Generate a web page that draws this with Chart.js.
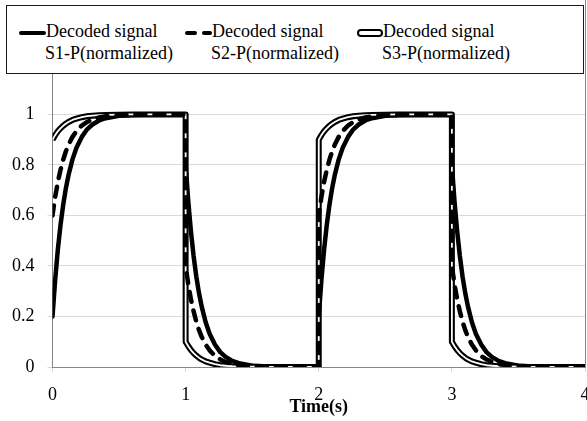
<!DOCTYPE html>
<html>
<head>
<meta charset="utf-8">
<script src="https://cdn.jsdelivr.net/npm/chart.js@4.4.1/dist/chart.umd.min.js"></script>
<style>
  html, body { margin: 0; padding: 0; background: #fff; }
  #wrap { position: relative; width: 587px; height: 421px; }
  canvas { position: absolute; left: 0; top: 0; }
  #legend {
    position: absolute; left: 6px; top: 5px; width: 578px; height: 69px;
    box-sizing: border-box; border: 1px solid #1a1a1a; background: #fff;
    font-family: "Liberation Serif", "Times New Roman", serif; font-size: 18px; color: #000;
  }
  .item { position: absolute; top: 14px; }
  .item .txt { position: absolute; top: 0; white-space: nowrap; line-height: 22px; }
  .icon { position: absolute; top: 12px; height: 0; }
  .ic-solid { width: 27px; height: 4px; background: #000; border-radius: 2px; top: 11px; }
  .ic-dash { width: 27px; height: 4px; top: 11px; }
  .ic-dash span { position: absolute; top: 0; height: 4px; background: #000; border-radius: 2px; }
  .ic-double { width: 26px; height: 8px; top: 9px; box-sizing: border-box; border: 2.5px solid #000; border-radius: 4px; background: #fff; }
</style>
</head>
<body>
<div id="wrap">
  <canvas id="c" width="587" height="421"></canvas>
  <div id="legend"></div>
</div>
<script>
// ---- data ----
const seriesLine1 = ["Decoded signal", "Decoded signal", "Decoded signal"];
const seriesLine2 = ["S1-P(normalized)", "S2-P(normalized)", "S3-P(normalized)"];

const times = [
  0, 0.02, 0.04, 0.06, 0.08, 0.1, 0.12, 0.15, 0.18, 0.22, 0.26, 0.3, 0.35, 0.4, 0.5, 0.6, 0.7, 1,
  1, 1.02, 1.04, 1.06, 1.08, 1.1, 1.12, 1.15, 1.18, 1.22, 1.26, 1.3, 1.35, 1.4, 1.5, 1.6, 1.7, 2,
  2, 2.02, 2.04, 2.06, 2.08, 2.1, 2.12, 2.15, 2.18, 2.22, 2.26, 2.3, 2.35, 2.4, 2.5, 2.6, 2.7, 3,
  3, 3.02, 3.04, 3.06, 3.08, 3.1, 3.12, 3.15, 3.18, 3.22, 3.26, 3.3, 3.35, 3.4, 3.5, 3.6, 3.7, 4
];

const s1 = [
  0.2, 0.345, 0.464, 0.561, 0.641, 0.706, 0.759, 0.822, 0.868, 0.911, 0.941, 0.960, 0.976, 0.985, 0.995, 0.998, 0.999, 1,
  0.8, 0.655, 0.536, 0.439, 0.359, 0.294, 0.241, 0.178, 0.132, 0.089, 0.059, 0.040, 0.024, 0.015, 0.005, 0.002, 0.001, 0,
  0.2, 0.345, 0.464, 0.561, 0.641, 0.706, 0.759, 0.822, 0.868, 0.911, 0.941, 0.960, 0.976, 0.985, 0.995, 0.998, 0.999, 1,
  0.8, 0.655, 0.536, 0.439, 0.359, 0.294, 0.241, 0.178, 0.132, 0.089, 0.059, 0.040, 0.024, 0.015, 0.005, 0.002, 0.001, 0
];

const s2 = [
  0.6, 0.673, 0.732, 0.780, 0.820, 0.853, 0.880, 0.911, 0.934, 0.956, 0.970, 0.980, 0.988, 0.993, 0.997, 0.999, 1.0, 1,
  0.4, 0.327, 0.268, 0.220, 0.180, 0.147, 0.120, 0.089, 0.066, 0.044, 0.030, 0.020, 0.012, 0.007, 0.003, 0.001, 0.0, 0,
  0.6, 0.673, 0.732, 0.780, 0.820, 0.853, 0.880, 0.911, 0.934, 0.956, 0.970, 0.980, 0.988, 0.993, 0.997, 0.999, 1.0, 1,
  0.4, 0.327, 0.268, 0.220, 0.180, 0.147, 0.120, 0.089, 0.066, 0.044, 0.030, 0.020, 0.012, 0.007, 0.003, 0.001, 0.0, 0
];

const s3 = [
  0.9, 0.918, 0.933, 0.945, 0.955, 0.963, 0.970, 0.978, 0.983, 0.989, 0.993, 0.995, 0.997, 0.998, 0.999, 1.0, 1.0, 1,
  0.1, 0.082, 0.067, 0.055, 0.045, 0.037, 0.030, 0.022, 0.017, 0.011, 0.007, 0.005, 0.003, 0.002, 0.001, 0.0, 0.0, 0,
  0.9, 0.918, 0.933, 0.945, 0.955, 0.963, 0.970, 0.978, 0.983, 0.989, 0.993, 0.995, 0.997, 0.998, 0.999, 1.0, 1.0, 1,
  0.1, 0.082, 0.067, 0.055, 0.045, 0.037, 0.030, 0.022, 0.017, 0.011, 0.007, 0.005, 0.003, 0.002, 0.001, 0.0, 0.0, 0
];

const xTicks = [0, 1, 2, 3, 4];
const yTicks = [0, 0.2, 0.4, 0.6, 0.8, 1];
const xTitle = "Time(s)";

// ---- legend (HTML) ----
const legendEl = document.getElementById('legend');
const itemLeft = [12, 178, 350];
const iconKinds = ['ic-solid', 'ic-dash', 'ic-double'];
seriesLine1.forEach((l1, i) => {
  const it = document.createElement('div');
  it.className = 'item';
  it.style.left = itemLeft[i] + 'px';
  const ic = document.createElement('div');
  ic.className = 'icon ' + iconKinds[i];
  ic.style.left = '0px';
  if (iconKinds[i] === 'ic-dash') {
    ic.innerHTML = '<span style="left:0;width:12px"></span><span style="left:17px;width:10px"></span>';
  }
  it.appendChild(ic);
  const t = document.createElement('div');
  t.className = 'txt';
  t.style.left = (i === 2 ? 26 : 27) + 'px';
  const a = document.createElement('div'); a.textContent = l1;
  const b = document.createElement('div'); b.textContent = seriesLine2[i]; b.style.marginLeft = '-1px';
  t.appendChild(a); t.appendChild(b);
  it.appendChild(t);
  legendEl.appendChild(it);
});

// ---- chart ----
const toXY = (arr) => times.map((t, i) => ({ x: t, y: arr[i] }));

const rightBorder = {
  id: 'rightBorder',
  afterDraw(chart) {
    const { ctx, chartArea } = chart;
    ctx.save();
    ctx.strokeStyle = '#868686';
    ctx.lineWidth = 1;
    ctx.beginPath();
    ctx.moveTo(Math.round(chartArea.right) + 0.5, 0);
    ctx.lineTo(Math.round(chartArea.right) + 0.5, chartArea.bottom);
    ctx.stroke();
    ctx.restore();
  }
};

const serif = "'Liberation Serif', 'Times New Roman', serif";

new Chart(document.getElementById('c'), {
  type: 'line',
  data: {
    datasets: [
      { label: seriesLine2[1], data: toXY(s2), borderColor: '#000', borderWidth: 4.5,
        borderDash: [10, 9], borderCapStyle: 'round', borderJoinStyle: 'round', order: 0 },
      { label: seriesLine2[2] + ' inner', data: toXY(s3), borderColor: '#fff', borderWidth: 1.8,
        borderJoinStyle: 'round', order: 1 },
      { label: seriesLine2[2], data: toXY(s3), borderColor: '#000', borderWidth: 6,
        borderJoinStyle: 'round', order: 2 },
      { label: seriesLine2[0], data: toXY(s1), borderColor: '#000', borderWidth: 4.5,
        borderJoinStyle: 'round', borderCapStyle: 'round', order: 3 }
    ]
  },
  options: {
    responsive: false,
    animation: false,
    elements: { point: { radius: 0 }, line: { tension: 0, fill: false } },
    layout: { padding: { left: 0, right: 2, top: 74, bottom: 0 } },
    plugins: { legend: { display: false }, tooltip: { enabled: false } },
    scales: {
      x: {
        type: 'linear', min: xTicks[0], max: xTicks[xTicks.length - 1],
        afterFit(s) { s.height = 54; s.paddingLeft = 0; s.paddingRight = 0; },
        afterBuildTicks(s) { s.ticks = xTicks.map(v => ({ value: v })); },
        border: { color: '#868686', width: 1 },
        grid: { drawOnChartArea: false, drawTicks: true, tickLength: 5, color: '#d9d9d9' },
        ticks: { color: '#000', font: { family: serif, size: 18 }, padding: 12,
                 maxRotation: 0, callback: v => String(v) },
        title: { display: true, text: xTitle, color: '#000',
                 font: { family: serif, size: 18, weight: 'bold' }, padding: { top: 0, bottom: 3 } }
      },
      y: {
        type: 'linear', min: 0, max: 1.16,
        afterFit(s) { s.width = 52.5; s.paddingTop = 0; s.paddingBottom = 0; },
        afterBuildTicks(s) { s.ticks = yTicks.map(v => ({ value: v })); },
        border: { color: '#868686', width: 1 },
        grid: { color: '#d9d9d9', lineWidth: 1, tickLength: 5, drawTicks: true },
        ticks: { color: '#000', font: { family: serif, size: 18 }, padding: 13,
                 callback: v => String(Number(v.toFixed(1))) }
      }
    }
  },
  plugins: [rightBorder]
});
</script>
</body>
</html>
